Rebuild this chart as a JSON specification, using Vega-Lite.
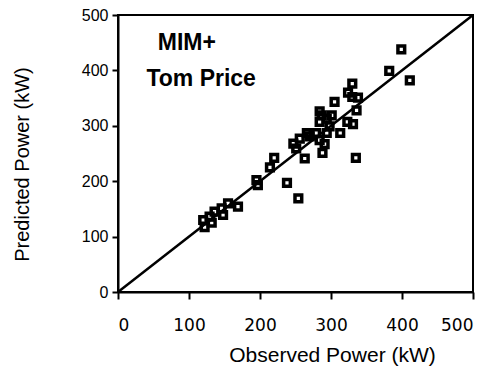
{
  "$schema": "https://vega.github.io/schema/vega-lite/v6.json",
  "width": 355,
  "height": 277,
  "autosize": "none",
  "padding": {"left": 118, "top": 15, "right": 20, "bottom": 86},
  "background": "white",
  "config": {
    "view": {"stroke": "black", "strokeWidth": 2},
    "axis": {"grid": false, "domainColor": "black", "domainWidth": 2, "tickColor": "black", "tickWidth": 2, "labelColor": "black", "titleColor": "black", "titleFontWeight": "normal"}
  },
  "datasets": {
    "pts": [
      {"obs": 399, "pred": 438}, {"obs": 382, "pred": 399}, {"obs": 411, "pred": 382},
      {"obs": 330, "pred": 376}, {"obs": 324, "pred": 360}, {"obs": 330, "pred": 352},
      {"obs": 338, "pred": 351}, {"obs": 305, "pred": 343}, {"obs": 336, "pred": 328},
      {"obs": 287, "pred": 319}, {"obs": 301, "pred": 319}, {"obs": 294, "pred": 313},
      {"obs": 284, "pred": 307}, {"obs": 323, "pred": 307}, {"obs": 331, "pred": 303},
      {"obs": 298, "pred": 299}, {"obs": 313, "pred": 287}, {"obs": 266, "pred": 287},
      {"obs": 279, "pred": 287}, {"obs": 294, "pred": 287}, {"obs": 256, "pred": 277},
      {"obs": 247, "pred": 268}, {"obs": 284, "pred": 274}, {"obs": 291, "pred": 267},
      {"obs": 251, "pred": 259}, {"obs": 288, "pred": 251}, {"obs": 263, "pred": 241},
      {"obs": 335, "pred": 242}, {"obs": 220, "pred": 242}, {"obs": 214, "pred": 225},
      {"obs": 195, "pred": 202}, {"obs": 197, "pred": 193}, {"obs": 238, "pred": 197},
      {"obs": 254, "pred": 169}, {"obs": 169, "pred": 154}, {"obs": 155, "pred": 160},
      {"obs": 146, "pred": 151}, {"obs": 136, "pred": 145}, {"obs": 148, "pred": 139},
      {"obs": 129, "pred": 136}, {"obs": 132, "pred": 125}, {"obs": 120, "pred": 130},
      {"obs": 122, "pred": 117}, {"obs": 284, "pred": 326}, {"obs": 270, "pred": 281}
    ],
    "diag": [{"x0": 0, "y0": 0, "x1": 500, "y1": 500}],
    "labels": [
      {"tx": 56, "ty": 437, "text": "MIM+"},
      {"tx": 40, "ty": 372, "text": "Tom Price"}
    ]
  },
  "layer": [
    {
      "data": {"name": "diag"},
      "mark": {"type": "rule", "color": "black", "strokeWidth": 2.5},
      "encoding": {
        "x": {"field": "x0", "type": "quantitative", "scale": {"domain": [0, 500], "nice": false},
          "axis": {"title": "Observed Power (kW)", "values": [0, 50, 100, 150, 200, 250, 300, 350, 400, 450, 500],
            "labelExpr": "datum.value % 100 === 0 ? datum.label : ''",
            "tickSize": 7, "labelPadding": 18, "labelFont": "DejaVu Sans", "labelFontSize": 17,
            "titleFont": "Liberation Sans", "titleFontSize": 21, "titlePadding": 11, "titleX": 214, "titleAnchor": "middle", "titleAlign": "center"}},
        "y": {"field": "y0", "type": "quantitative", "scale": {"domain": [0, 500], "nice": false},
          "axis": {"title": "Predicted Power (kW)", "values": [0, 50, 100, 150, 200, 250, 300, 350, 400, 450, 500],
            "labelExpr": "datum.value % 100 === 0 ? datum.label : ''",
            "tickSize": 6, "labelPadding": 4, "labelFont": "Liberation Sans", "labelFontSize": 16,
            "titleFont": "Liberation Sans", "titleFontSize": 20, "titleX": -96, "titleY": 149, "titleAlign": "center", "titleBaseline": "middle", "titleAngle": -90}},
        "x2": {"field": "x1"},
        "y2": {"field": "y1"}
      }
    },
    {
      "data": {"name": "pts"},
      "mark": {"type": "point", "shape": "square", "filled": false, "stroke": "black", "strokeWidth": 3.5, "size": 45, "opacity": 1},
      "encoding": {
        "x": {"field": "obs", "type": "quantitative"},
        "y": {"field": "pred", "type": "quantitative"}
      }
    },
    {
      "data": {"name": "labels"},
      "mark": {"type": "text", "align": "left", "baseline": "alphabetic", "font": "Liberation Sans", "fontWeight": "bold", "fontSize": 23, "color": "black"},
      "encoding": {
        "x": {"field": "tx", "type": "quantitative"},
        "y": {"field": "ty", "type": "quantitative"},
        "text": {"field": "text"}
      }
    }
  ]
}
